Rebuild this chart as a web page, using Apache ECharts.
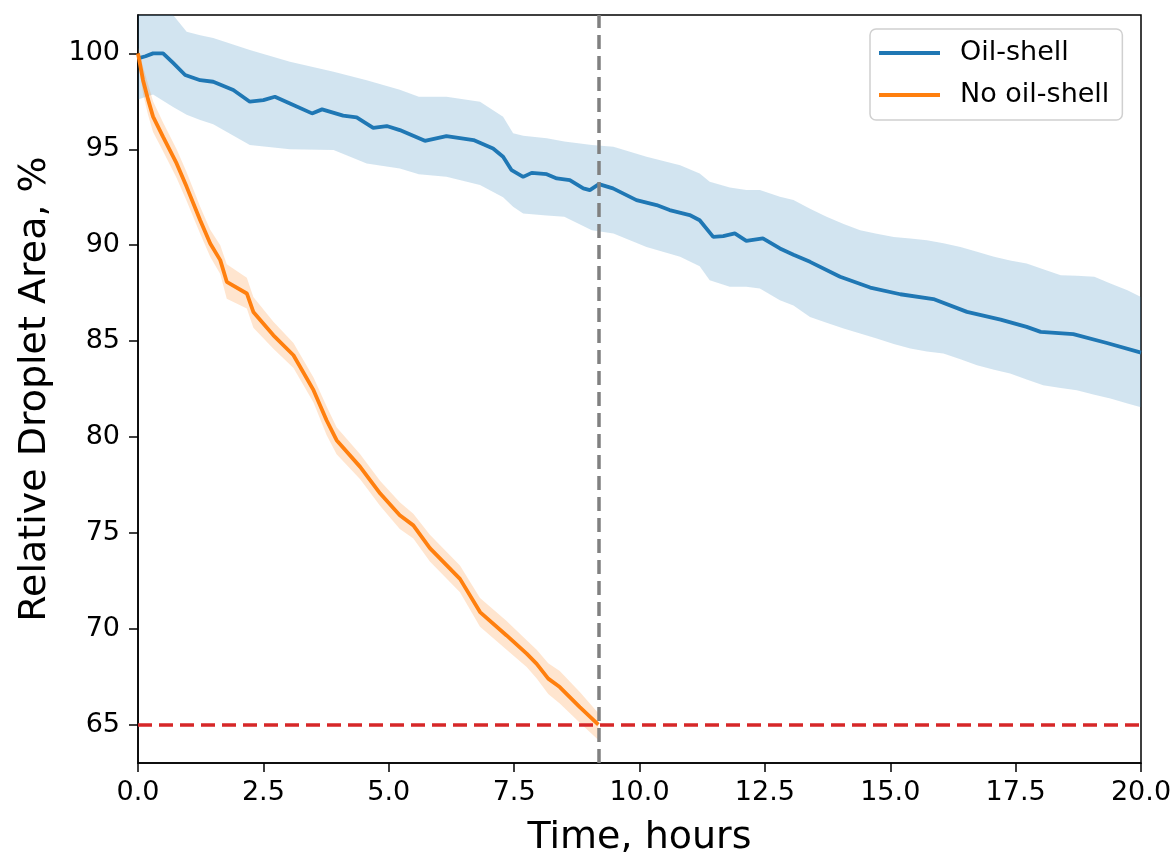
<!DOCTYPE html>
<html>
<head>
<meta charset="utf-8">
<script src="https://cdn.jsdelivr.net/npm/echarts@6/dist/echarts.min.js"></script>
<style>
html,body{margin:0;padding:0;background:#fff;}
#chart{width:1174px;height:854px;}
</style>
</head>
<body>
<div id="chart"></div>
<script>
// ---- Data ----
const oilX = [0, 0.15, 0.3, 0.5, 0.7, 0.94, 1.24, 1.5, 1.9, 2.23, 2.5, 2.73, 3.03, 3.47, 3.67, 4.09, 4.36, 4.69, 4.96, 5.22, 5.72, 6.15, 6.69, 7.08, 7.28, 7.45, 7.68, 7.85, 8.15, 8.35, 8.61, 8.88, 9.01, 9.19, 9.47, 9.94, 10.34, 10.6, 11.0, 11.2, 11.47, 11.67, 11.9, 12.13, 12.46, 12.8, 13.07, 13.4, 14.0, 14.6, 15.2, 15.86, 16.53, 17.2, 17.72, 18.0, 18.65, 19.32, 20.0];
const oilY = [99.74, 99.85, 100.0, 100.0, 99.5, 98.87, 98.6, 98.52, 98.09, 97.48, 97.56, 97.74, 97.39, 96.87, 97.08, 96.75, 96.66, 96.12, 96.21, 96.0, 95.44, 95.69, 95.48, 95.04, 94.61, 93.91, 93.56, 93.77, 93.70, 93.48, 93.39, 92.96, 92.87, 93.18, 92.96, 92.35, 92.09, 91.83, 91.57, 91.30, 90.43, 90.47, 90.61, 90.22, 90.35, 89.83, 89.5, 89.13, 88.35, 87.79, 87.44, 87.19, 86.52, 86.12, 85.74, 85.48, 85.36, 84.9, 84.4];

const oilBandX = [0, 0.3, 0.7, 0.97, 1.24, 1.5, 2.23, 3.03, 3.9, 4.56, 5.22, 5.6, 6.15, 6.82, 7.28, 7.48, 7.68, 8.15, 8.5, 9.05, 9.48, 10.14, 10.81, 11.2, 11.4, 11.8, 12.13, 12.4, 12.8, 13.07, 13.4, 13.73, 14.07, 14.4, 14.73, 15.07, 15.4, 15.73, 16.06, 16.4, 16.73, 17.07, 17.39, 17.72, 18.05, 18.4, 18.72, 19.07, 19.39, 19.73, 20];
const oilUpper = [102.3, 102.6, 102.0, 101.13, 100.95, 100.8, 100.17, 99.56, 99.04, 98.6, 98.1, 97.74, 97.74, 97.48, 96.7, 95.83, 95.7, 95.57, 95.4, 95.22, 95.13, 94.61, 94.17, 93.74, 93.3, 93.0, 92.87, 92.87, 92.52, 92.35, 91.9, 91.48, 91.1, 90.78, 90.6, 90.43, 90.35, 90.26, 90.1, 89.91, 89.65, 89.39, 89.2, 89.04, 88.75, 88.43, 88.4, 88.35, 88.0, 87.65, 87.3];
const oilLower = [97.6, 97.85, 97.2, 96.8, 96.52, 96.3, 95.22, 95.0, 94.96, 94.26, 94.0, 93.7, 93.56, 93.13, 92.5, 92.0, 91.65, 91.55, 91.48, 90.78, 90.61, 89.91, 89.39, 88.9, 88.17, 87.83, 87.83, 87.74, 87.13, 86.85, 86.26, 85.95, 85.65, 85.4, 85.13, 84.85, 84.61, 84.45, 84.35, 84.05, 83.74, 83.5, 83.31, 83.0, 82.7, 82.55, 82.44, 82.2, 82.0, 81.75, 81.55];

const noOilX = [0, 0.1, 0.2, 0.3, 0.5, 0.77, 0.97, 1.24, 1.44, 1.64, 1.77, 2.17, 2.3, 2.7, 3.1, 3.5, 3.76, 3.96, 4.43, 4.83, 5.22, 5.49, 5.82, 6.42, 6.82, 7.35, 7.75, 7.95, 8.18, 8.41, 8.81, 9.18];
const noOilY = [100, 98.6, 97.6, 96.7, 95.65, 94.26, 93.04, 91.3, 90.09, 89.22, 88.09, 87.48, 86.52, 85.3, 84.26, 82.44, 80.87, 79.83, 78.44, 77.05, 75.92, 75.39, 74.2, 72.6, 70.87, 69.65, 68.7, 68.17, 67.4, 66.96, 65.91, 65.0];
const noOilUpper = [100.3, 99.3, 98.4, 97.5, 96.4, 95.0, 93.8, 92.0, 90.8, 90.0, 89.0, 88.3, 87.3, 86.0, 84.9, 83.1, 81.6, 80.5, 79.1, 77.7, 76.6, 76.0, 74.9, 73.3, 71.6, 70.4, 69.4, 68.9, 68.2, 67.8, 66.7, 65.6];
const noOilLower = [99.7, 97.9, 96.8, 95.9, 94.9, 93.5, 92.3, 90.6, 89.4, 88.5, 87.2, 86.7, 85.7, 84.6, 83.6, 81.8, 80.1, 79.1, 77.8, 76.4, 75.2, 74.7, 73.5, 71.9, 70.1, 68.9, 68.0, 67.4, 66.6, 66.1, 65.1, 64.2];

const yTicks = [65, 70, 75, 80, 85, 90, 95, 100];
const thresholdValue = 65;
const crossTime = 9.19;
const seriesNames = ['Oil-shell', 'No oil-shell'];

// ---- Chart ----
const FONT = 'DejaVu Sans';
const chart = echarts.init(document.getElementById('chart'), null, {renderer: 'canvas'});

function bandSeries(xs, lo, hi, color) {
  return {
    type: 'custom',
    silent: true,
    clip: true,
    z: 1,
    data: xs.map((x, i) => [x, lo[i], hi[i]]),
    encode: {x: 0, y: [1, 2]},
    renderItem: function (params, api) {
      if (params.dataIndex !== 0) return null;
      const pts = [];
      for (let i = 0; i < xs.length; i++) pts.push(api.coord([xs[i], hi[i]]));
      for (let i = xs.length - 1; i >= 0; i--) pts.push(api.coord([xs[i], lo[i]]));
      return {type: 'polygon', shape: {points: pts}, style: {fill: color, stroke: null}};
    }
  };
}

const option = {
  animation: false,
  backgroundColor: '#fff',
  grid: {left: 138, top: 15, right: 33, bottom: 91, show: true, borderColor: '#000', borderWidth: 1.5, backgroundColor: 'transparent', containLabel: false, outerBoundsMode: 'none'},
  legend: {
    data: seriesNames,
    orient: 'vertical',
    left: 870, top: 29,
    itemWidth: 61, itemHeight: 4,
    icon: 'rect',
    itemGap: 12,
    padding: [9, 13, 10, 9],
    backgroundColor: '#fff',
    borderColor: '#d0d0d0',
    borderWidth: 1.5,
    borderRadius: 6,
    textStyle: {fontFamily: FONT, fontSize: 27, color: '#000', lineHeight: 30, padding: [0, 0, 0, 15]}
  },
  xAxis: {
    type: 'value', min: 0, max: 20, interval: 2.5,
    name: 'Time, hours', nameLocation: 'middle', nameGap: 56,
    nameTextStyle: {fontFamily: FONT, fontSize: 38, color: '#000'},
    axisLine: {show: true, onZero: false, lineStyle: {color: '#000', width: 1.5}},
    axisTick: {show: true, length: 9, lineStyle: {color: '#000', width: 1.5}},
    axisLabel: {fontFamily: FONT, fontSize: 27, color: '#000', margin: 16, formatter: v => v.toFixed(1)},
    splitLine: {show: false}
  },
  yAxis: {
    type: 'value', min: 63.0, max: 102.0,
    name: 'Relative Droplet Area, %', nameLocation: 'middle', nameGap: 84,
    nameTextStyle: {fontFamily: FONT, fontSize: 38, color: '#000'},
    axisLine: {show: true, onZero: false, lineStyle: {color: '#000', width: 1.5}},
    axisTick: {show: true, length: 9, customValues: yTicks, lineStyle: {color: '#000', width: 1.5}},
    axisLabel: {fontFamily: FONT, fontSize: 27, color: '#000', margin: 18, customValues: yTicks},
    splitLine: {show: false}
  },
  series: [
    bandSeries(oilBandX, oilLower, oilUpper, 'rgba(31,119,180,0.2)'),
    bandSeries(noOilX, noOilLower, noOilUpper, 'rgba(255,127,14,0.2)'),
    {
      name: seriesNames[0], type: 'line', z: 3, symbol: 'none', silent: true,
      data: oilX.map((x, i) => [x, oilY[i]]),
      itemStyle: {color: '#1f77b4'},
      lineStyle: {color: '#1f77b4', width: 3.8}
    },
    {
      name: seriesNames[1], type: 'line', z: 3, symbol: 'none', silent: true,
      data: noOilX.map((x, i) => [x, noOilY[i]]),
      itemStyle: {color: '#ff7f0e'},
      lineStyle: {color: '#ff7f0e', width: 3.8},
      markLine: {
        silent: true, symbol: 'none', animation: false, z: 4,
        label: {show: false},
        emphasis: {disabled: true},
        data: [
          {xAxis: crossTime, lineStyle: {color: '#808080', width: 3.5, type: [14, 7]}},
          {yAxis: thresholdValue, lineStyle: {color: '#d62728', width: 3.5, type: [14, 7]}}
        ]
      }
    }
  ]
};
chart.setOption(option);
</script>
</body>
</html>
